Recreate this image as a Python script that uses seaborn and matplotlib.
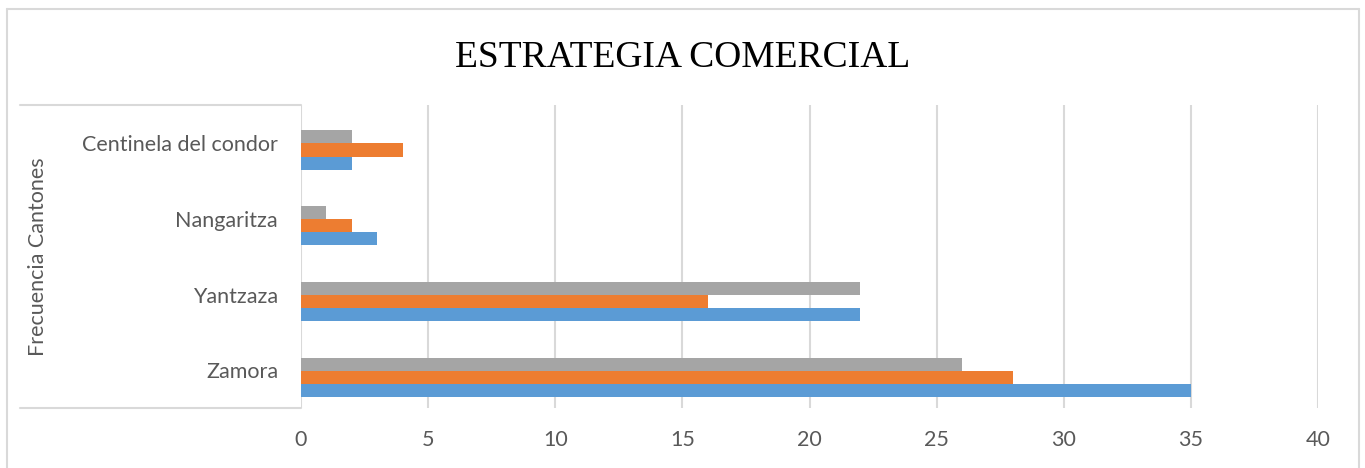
import matplotlib
matplotlib.use("Agg")
import matplotlib.pyplot as plt
from matplotlib.lines import Line2D
import seaborn as sns
import pandas as pd

# Data
cantones = ["Centinela del condor", "Nangaritza", "Yantzaza", "Zamora"]
serie_1 = [2, 3, 22, 35]   # blue
serie_2 = [4, 2, 16, 28]   # orange
serie_3 = [2, 1, 22, 26]   # gray
series_names = ["Serie 1", "Serie 2", "Serie 3"]
x_ticks = [0, 5, 10, 15, 20, 25, 30, 35, 40]

df = pd.DataFrame({
    "Canton": cantones * 3,
    "Serie": [series_names[0]] * 4 + [series_names[1]] * 4 + [series_names[2]] * 4,
    "Valor": serie_1 + serie_2 + serie_3,
})

palette = {"Serie 1": "#5B9BD5", "Serie 2": "#ED7D31", "Serie 3": "#A5A5A5"}
text_color = "#595959"
line_color = "#D9D9D9"
W, H = 1365, 468
label_size = 15.5

sns.set_theme(style="white")
plt.rcParams["font.family"] = ["Lato", "DejaVu Sans"]

fig = plt.figure(figsize=(W / 100, H / 100), dpi=100)
ax = fig.add_axes([301 / W, 1 - 408 / H, (1318 - 301) / W, (408 - 105) / H])

sns.barplot(
    data=df, y="Canton", x="Valor", hue="Serie",
    order=cantones, hue_order=["Serie 3", "Serie 2", "Serie 1"],
    palette=palette, orient="h", width=0.52, dodge=True,
    saturation=1, linewidth=0, legend=False, ax=ax,
)

ax.set_xlim(0, 40)
ax.set_ylim(3.406, -0.594)
ax.set_xticks(x_ticks)
ax.set_xticklabels([str(t) for t in x_ticks])
ax.set_yticks([i - 0.09 for i in range(len(cantones))])
ax.set_yticklabels(cantones)
ax.set_xlabel("")
ax.set_ylabel("")
ax.grid(axis="x", color=line_color, linewidth=1.5)
ax.grid(axis="y", visible=False)
ax.set_axisbelow(True)
for s in ax.spines.values():
    s.set_visible(False)
ax.tick_params(axis="both", length=0, labelsize=label_size, colors=text_color)
ax.tick_params(axis="y", pad=16.5)
ax.tick_params(axis="x", pad=15.5)

# Chart frame (left, top, right edges)
def fline(x0, y0, x1, y1):
    fig.add_artist(Line2D([x0 / W, x1 / W], [1 - y0 / H, 1 - y1 / H],
                          color=line_color, linewidth=1.5, transform=fig.transFigure))

fline(7, 470, 7, 9)
fline(7, 9, 1359, 9)
fline(1359, 9, 1359, 470)
# Box around the category labels
fline(20, 105, 301, 105)
fline(20, 408, 301, 408)

fig.text(0.5, 1 - 67 / H, "ESTRATEGIA COMERCIAL", ha="center", va="baseline",
         fontsize=27, color="black", family=["Liberation Serif", "DejaVu Serif"])
fig.text(38 / W, 1 - 257 / H, "Frecuencia Cantones", ha="center", va="center",
         rotation=90, fontsize=label_size, color=text_color)

fig.savefig("out.png", dpi=100)
